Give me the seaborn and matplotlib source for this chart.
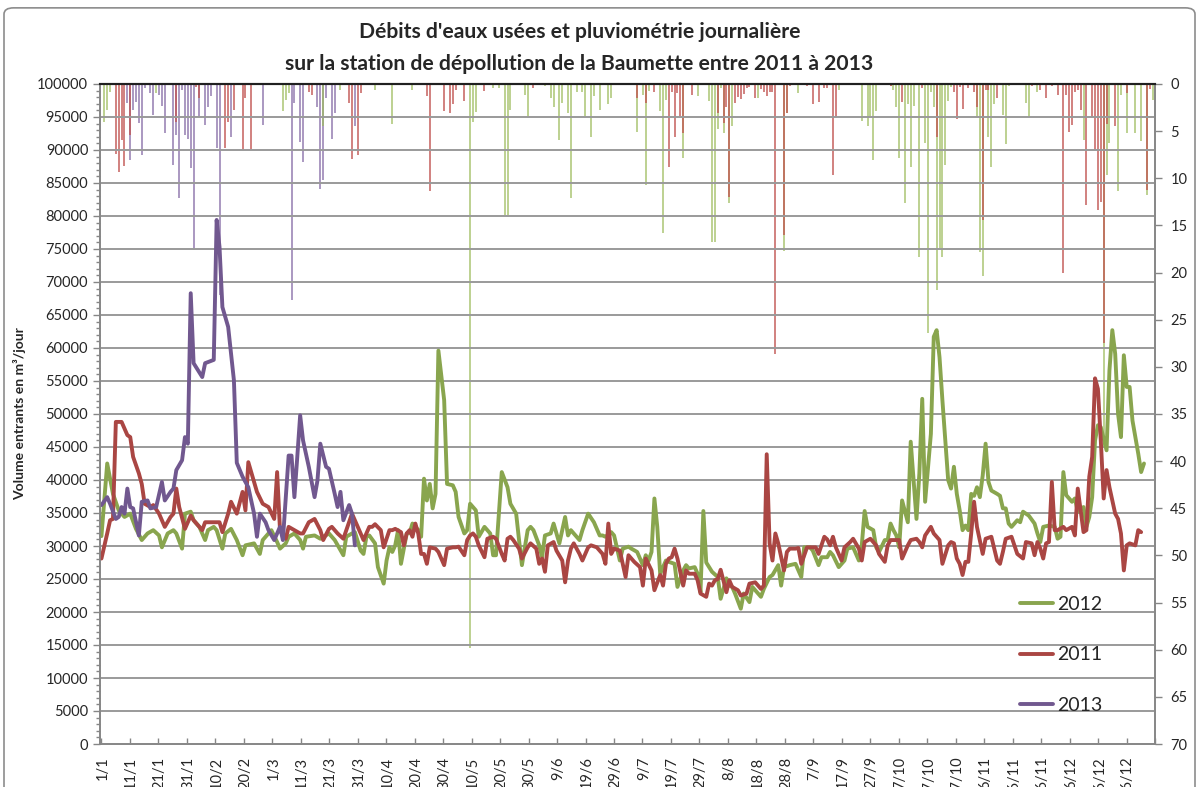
import matplotlib
matplotlib.use("Agg")
import matplotlib.pyplot as plt
from matplotlib.patches import FancyBboxPatch
from matplotlib.ticker import MultipleLocator
import seaborn as sns

# Débits journaliers entrants (jour de l'année, m3/jour)
days_2012 = [0, 2, 4, 6, 8, 10, 12, 14, 16, 18, 20, 21, 23, 25, 26, 28, 29, 31, 32, 34, 35, 36, 37, 39, 40,
             42, 43, 45, 47, 49, 50, 53, 55, 56, 58, 59, 61, 62, 64, 65, 67, 69, 70, 71, 74, 76, 79, 81, 84,
             85, 87, 88, 90, 91, 92, 93, 95, 96, 98, 99, 100, 101, 102, 103, 104, 106, 107, 108, 110, 111,
             112, 113, 114, 115, 116, 117, 119, 120, 122, 123, 124, 126, 127, 128, 130, 131, 133, 135, 136,
             137, 138, 139, 141, 142, 144, 145, 146, 148, 149, 150, 152, 153, 154, 156, 157, 159, 160, 161,
             162, 163, 164, 166, 167, 169, 171, 173, 174, 175, 177, 178, 180, 181, 183, 184, 186, 188, 189,
             190, 191, 192, 193, 194, 196, 197, 199, 200, 202, 203, 204, 206, 207, 208, 209, 210, 212, 214,
             215, 217, 218, 219, 220, 222, 223, 225, 226, 227, 229, 230, 232, 233, 235, 236, 237, 239, 241,
             243, 244, 246, 247, 249, 250, 252, 253, 254, 256, 258, 259, 261, 263, 264, 265, 266, 268, 269,
             270, 272, 273, 274, 275, 276, 277, 278, 280, 281, 283, 284, 285, 286, 288, 289, 290, 291, 292,
             294, 295, 296, 297, 298, 299, 300, 301, 302, 303, 304, 305, 306, 307, 308, 309, 311, 312, 313,
             314, 315, 316, 318, 319, 320, 322, 324, 325, 326, 327, 329, 331, 332, 333, 334, 335, 337, 338,
             339, 341, 342, 343, 344, 345, 346, 347, 349, 350, 351, 352, 353, 354, 355, 356, 357, 358, 359,
             360, 361, 362]
flow_2012 = [31500, 42500, 37900, 35400, 34400, 34900, 32600, 30900, 31900, 32400, 31600, 29800, 31900,
             32400, 31900, 29600, 34900, 35200, 33900, 32900, 31900, 30900, 32400, 32900, 32400, 29600,
             31900, 32600, 30900, 28600, 30100, 30400, 28800, 30900, 31900, 32400, 30600, 29600, 30400,
             31400, 31900, 30900, 29600, 31400, 31600, 31100, 31900, 30900, 28600, 31400, 31900, 32100,
             29300, 28800, 31400, 31600, 30400, 26800, 24300, 27800, 29800, 29100, 30100, 32400, 27300,
             31900, 32000, 33400, 32400, 31400, 40200, 36900, 39400, 35700, 37900, 59600, 52100, 39400,
             39200, 38200, 34400, 31900, 32400, 36400, 35400, 31400, 32900, 31900, 28600, 28600, 34900,
             41200, 38900, 36400, 34900, 30900, 27100, 32400, 32900, 32400, 30100, 28300, 31600, 31900,
             33400, 30400, 32400, 34400, 31600, 32400, 31900, 30900, 32400, 34900, 33600, 31600, 31600,
             31400, 32100, 31600, 27800, 29600, 29900, 29600, 29100, 27100, 28600, 27800, 29100, 37200,
             32900, 25800, 27800, 27600, 27300, 23800, 26300, 27100, 26600, 26800, 25800, 23000, 35300,
             27500, 26100, 25300, 22000, 25100, 24000, 23800, 22800, 20500, 22800, 21500, 23800, 23300,
             22300, 23500, 25300, 25600, 27100, 24000, 26800, 27100, 27300, 25300, 29800, 29800, 29300,
             27100, 28300, 28300, 29100, 28600, 26800, 27800, 29600, 29800, 27800, 30100, 35300, 32900,
             32400, 29800, 29100, 30900, 30900, 33400, 32400, 31600, 29800, 36900, 33600, 45800, 34100,
             41000, 52300, 36700, 47000, 61700, 62700, 58600, 52100, 40000, 38700, 42000, 37900, 35400,
             32400, 33100, 32400, 37900, 37600, 38900, 37400, 40700, 45500, 39700, 38400, 37900, 37600,
             35700, 35700, 33400, 32900, 33900, 33600, 35200, 34600, 33400, 31900, 30600, 32900, 33100,
             32900, 31100, 31400, 41200, 37700, 36700, 37200, 35200, 35900, 32900, 34400, 37400, 46000,
             48300, 48000, 44500, 56600, 62700, 59100, 50000, 46500, 58900, 54100, 54100, 49000, 46500,
             44000, 41200, 42500]

days_2011 = [0, 2, 3, 4, 5, 7, 9, 10, 11, 13, 14, 15, 17, 18, 20, 22, 24, 25, 26, 27, 29, 31, 32, 35, 36,
             39, 41, 42, 44, 45, 47, 49, 50, 51, 53, 54, 56, 58, 60, 61, 62, 64, 65, 67, 69, 70, 72, 74, 76,
             77, 79, 80, 82, 84, 87, 89, 91, 93, 94, 95, 97, 98, 100, 101, 102, 104, 105, 106, 107, 108,
             109, 110, 111, 112, 113, 114, 116, 117, 119, 120, 122, 123, 124, 126, 127, 128, 129, 130, 131,
             133, 134, 136, 137, 139, 140, 141, 142, 143, 145, 146, 148, 149, 151, 152, 153, 154, 155, 157,
             158, 160, 161, 162, 163, 164, 166, 167, 169, 170, 172, 174, 175, 176, 177, 178, 180, 181, 182,
             183, 185, 187, 188, 189, 191, 192, 194, 195, 196, 197, 198, 199, 200, 202, 203, 204, 206, 207,
             208, 210, 211, 212, 213, 214, 215, 217, 218, 219, 221, 222, 224, 225, 227, 229, 230, 231, 232,
             233, 234, 235, 237, 238, 239, 241, 242, 243, 245, 247, 248, 249, 251, 252, 253, 254, 255, 257,
             258, 260, 261, 263, 264, 265, 267, 269, 270, 272, 273, 274, 275, 277, 278, 280, 281, 283, 284,
             285, 286, 288, 289, 291, 292, 294, 295, 296, 297, 298, 299, 300, 301, 302, 303, 304, 306, 307,
             309, 310, 311, 312, 313, 314, 316, 317, 318, 320, 321, 323, 324, 325, 326, 327, 328, 329, 330,
             331, 332, 334, 335, 337, 338, 339, 340, 341, 342, 343, 344, 345, 346, 347, 348, 349, 350, 352,
             353, 354, 355, 356, 357, 359, 360, 361]
flow_2011 = [28100, 31900, 33900, 34100, 48800, 48800, 46800, 46500, 43500, 41000, 39400, 36400, 35900,
             36200, 34900, 32900, 34400, 34900, 38700, 35900, 32600, 34600, 33900, 32400, 33600, 33600,
             33600, 32100, 34900, 36700, 34900, 38200, 35400, 42700, 39700, 38200, 36400, 35900, 34100,
             41200, 32400, 31100, 32900, 32400, 31900, 31900, 33600, 34100, 32400, 30900, 32600, 32900,
             31900, 31100, 34900, 32900, 30900, 32900, 32900, 33300, 32400, 29800, 32400, 32400, 32600,
             32100, 30100, 31900, 32400, 31400, 33400, 31900, 28800, 28800, 27300, 29800, 29600, 29100,
             27100, 29600, 29800, 29800, 29900, 28600, 30900, 31600, 31900, 31400, 30100, 28300, 31100,
             31400, 31100, 28800, 27800, 31100, 31400, 30900, 29600, 28100, 29800, 30400, 29600, 27300,
             28100, 26100, 30100, 30600, 29300, 27800, 24500, 27800, 29600, 30400, 28800, 27800, 29800,
             30100, 29800, 28800, 27300, 33400, 28800, 29600, 29300, 27300, 25300, 28600, 27600, 26800,
             24000, 28100, 26300, 23300, 25600, 24000, 27300, 28100, 28300, 29600, 28100, 24000, 26300,
             25800, 25800, 24800, 22800, 22300, 24300, 24000, 24800, 25000, 26400, 23000, 24800, 23800,
             23300, 22500, 22800, 24300, 24500, 23500, 24000, 43900, 30400, 27800, 31900, 30400, 26300,
             29100, 29600, 29600, 29700, 27300, 29800, 29800, 29800, 28800, 31400, 31000, 30100, 31400,
             29800, 27800, 29800, 30600, 31100, 29600, 27800, 30600, 31100, 30100, 28800, 27600, 30100,
             30900, 30900, 30900, 28100, 30100, 30900, 31100, 30600, 29800, 31600, 32900, 31900, 30900,
             27300, 30100, 30600, 30400, 28100, 27300, 25600, 27600, 27600, 31900, 36700, 32900, 28800,
             31100, 31400, 29600, 27800, 27300, 29100, 31100, 31400, 30100, 28800, 28100, 30600, 30400,
             28600, 30600, 29600, 28100, 30400, 30600, 39700, 32400, 32400, 32900, 32400, 32900, 31600,
             38700, 35400, 32100, 32400, 40500, 43500, 55400, 53800, 46000, 37200, 41500, 38900, 34900,
             34100, 31900, 26300, 30100, 30400, 30100, 32400, 32100]

days_2013 = [0, 2, 3, 5, 6, 7, 8, 9, 10, 11, 13, 14, 16, 17, 19, 21, 22, 24, 25, 26, 28, 29, 30, 31, 32, 35,
             36, 39, 40, 41, 42, 44, 46, 47, 49, 51, 53, 54, 55, 57, 58, 60, 62, 63, 65, 66, 67, 68, 69,
             70, 72, 74, 75, 76, 78, 79, 81, 82, 83, 84, 86, 87, 88]
flow_2013 = [36200, 37400, 36400, 34100, 34400, 35900, 34900, 38700, 35900, 35700, 31600, 36700, 36900,
             35700, 35900, 39700, 36900, 38200, 38700, 41500, 43000, 46500, 45500, 68300, 57700, 55600,
             57700, 58200, 79400, 75300, 66200, 63200, 55100, 42600, 40500, 38900, 34900, 31400, 34900,
             33600, 32400, 30900, 32900, 30900, 43700, 43700, 37400, 43500, 49800, 46000, 42000, 37400,
             39900, 45500, 42000, 41700, 37900, 35900, 38200, 33900, 36200, 34900, 30100]

# Pluviométrie journalière (jour de l'année, mm)
rain_days_2012 = [1, 2, 3, 19, 63, 64, 65, 77, 83, 95, 101, 108, 128, 129, 130, 136, 138, 140, 141, 142,
                  147, 148, 154, 156, 157, 159, 160, 162, 163, 165, 167, 168, 170, 171, 173, 176, 177, 186,
                  188, 189, 190, 194, 195, 196, 202, 207, 211, 212, 213, 214, 215, 216, 218, 219, 228, 237,
                  238, 242, 256, 261, 264, 266, 267, 268, 269, 274, 275, 276, 277, 279, 280, 281, 282, 284,
                  286, 287, 288, 289, 290, 291, 292, 293, 294, 295, 304, 305, 306, 308, 309, 310, 313, 314,
                  315, 321, 322, 325, 341, 348, 349, 350, 353, 354, 356, 359, 361, 363, 365]
rain_2012 = [4.0, 2.8, 0.9, 1.0, 2.9, 1.7, 1.0, 4.5, 0.6, 0.6, 4.2, 0.6, 59.8, 4.0, 3.0, 0.4, 0.4, 13.9,
             13.9, 2.8, 1.2, 3.4, 0.2, 1.5, 2.4, 5.9, 2.0, 3.1, 12.1, 0.9, 0.9, 3.4, 5.6, 1.3, 2.8, 2.1,
             1.5, 5.1, 1.2, 10.7, 0.7, 2.9, 15.8, 1.7, 7.8, 1.3, 1.8, 16.8, 16.8, 4.8, 0.4, 5.2, 12.6, 4.5,
             1.5, 17.7, 3.1, 1.0, 0.6, 0.1, 3.9, 4.5, 3.5, 8.1, 2.9, 0.2, 0.6, 2.4, 7.9, 12.6, 2.1, 8.8,
             2.3, 18.3, 6.3, 26.4, 0.8, 2.4, 21.8, 17.4, 18.4, 8.6, 1.8, 0.3, 3.5, 17.8, 20.4, 5.6, 8.8,
             2.1, 3.3, 6.4, 0.2, 2.0, 3.5, 0.9, 5.9, 38.5, 9.7, 6.3, 11.4, 1.2, 5.2, 5.2, 6.0, 11.8, 1.7]

rain_days_2011 = [5, 6, 7, 8, 10, 26, 33, 34, 43, 44, 46, 49, 50, 52, 59, 72, 73, 86, 87, 89, 90, 113, 114,
                  119, 121, 122, 123, 126, 133, 150, 186, 189, 192, 197, 198, 199, 200, 201, 202, 205, 214,
                  216, 217, 218, 220, 221, 222, 223, 224, 225, 227, 229, 230, 231, 232, 233, 234, 237, 238,
                  239, 245, 247, 249, 251, 252, 254, 255, 274, 278, 285, 290, 296, 297, 298, 299, 301, 303,
                  304, 306, 307, 308, 311, 323, 326, 328, 329, 330, 331, 332, 334, 335, 336, 337, 338, 339,
                  340, 342, 344, 345, 346, 347, 348, 349, 352, 356, 363, 364]
rain_2011 = [7.4, 9.3, 5.9, 8.7, 5.4, 4.0, 0.3, 1.5, 6.8, 4.0, 2.8, 7.0, 1.5, 6.9, 0.1, 0.8, 1.2, 2.0, 8.0,
             7.5, 1.0, 1.3, 11.3, 2.9, 3.1, 2.1, 0.6, 1.8, 0.7, 0.4, 1.5, 2.0, 0.9, 8.8, 0.9, 5.6, 1.0,
             3.4, 5.2, 1.2, 3.1, 4.1, 2.4, 12.0, 2.0, 1.4, 1.6, 1.1, 0.4, 0.3, 1.5, 0.5, 0.8, 1.3, 0.8,
             0.9, 28.6, 16.0, 3.1, 0.2, 0.2, 2.1, 1.9, 0.4, 0.4, 9.6, 3.5, 0.2, 1.9, 0.4, 5.6, 0.8, 3.7,
             0.3, 2.7, 0.4, 0.9, 2.4, 14.4, 0.6, 0.6, 1.5, 0.2, 0.6, 1.5, 0.1, 0.2, 0.1, 1.2, 20.0, 1.2,
             5.1, 4.4, 0.9, 0.6, 2.8, 12.8, 3.5, 7.0, 13.4, 12.5, 27.5, 4.2, 4.5, 1.0, 11.2, 0.5]

rain_days_2013 = [9, 10, 11, 12, 13, 14, 15, 17, 18, 20, 21, 22, 25, 26, 27, 28, 29, 30, 31, 32, 34, 36, 37,
                  38, 40, 41, 45, 56, 66, 67, 69, 70, 75, 76, 77, 78, 80, 81, 88]
rain_2013 = [2.0, 8.1, 2.8, 1.9, 4.1, 7.5, 0.4, 1.0, 3.3, 1.2, 2.3, 5.2, 8.6, 5.4, 12.1, 0.6, 5.4, 5.8, 8.9,
             17.6, 3.5, 4.4, 2.4, 1.3, 6.8, 22.4, 5.6, 4.4, 22.9, 2.0, 6.1, 8.3, 2.4, 11.1, 10.2, 1.5, 5.8,
             3.1, 4.5]

xtick_labels = ["1/1", "11/1", "21/1", "31/1", "10/2", "20/2", "1/3", "11/3", "21/3", "31/3", "10/4",
                "20/4", "30/4", "10/5", "20/5", "30/5", "9/6", "19/6", "29/6", "9/7", "19/7", "29/7", "8/8",
                "18/8", "28/8", "7/9", "17/9", "27/9", "7/10", "17/10", "27/10", "6/11", "16/11", "26/11",
                "6/12", "16/12", "26/12"]

sns.set_theme(style="white")
plt.rcParams['font.family'] = ['Lato', 'DejaVu Sans']

fig = plt.figure(figsize=(12, 7.87), dpi=100)
ax = fig.add_axes([100 / 1200, 1 - 744 / 787, 1055 / 1200, 660 / 787])
ax2 = ax.twinx()

# pluviométrie (barres suspendues, axe secondaire inversé)
ax2.bar(rain_days_2013, rain_2013, width=0.7, color="#8064A2", alpha=0.65, linewidth=0)
ax2.bar(rain_days_2012, rain_2012, width=0.7, color="#9BBB59", alpha=0.65, linewidth=0)
ax2.bar(rain_days_2011, rain_2011, width=0.7, color="#C0504D", alpha=0.7, linewidth=0)
ax2.set_ylim(70, 0)
ax2.yaxis.set_major_locator(MultipleLocator(5))
ax2.tick_params(axis="y", labelsize=10.5, length=5, width=1, color="#868686", direction="out", pad=6)

# débits
sns.lineplot(x=days_2012, y=flow_2012, ax=ax, color="#89A54E", lw=2.8, label="2012")
sns.lineplot(x=days_2011, y=flow_2011, ax=ax, color="#AA4643", lw=2.8, label="2011")
sns.lineplot(x=days_2013, y=flow_2013, ax=ax, color="#71588F", lw=2.8, label="2013")

ax.set_zorder(ax2.get_zorder() + 1)
ax.patch.set_visible(False)

ax.set_xlim(-0.5, 365.5)
ax.set_ylim(0, 100000)
ax.yaxis.set_major_locator(MultipleLocator(5000))
ax.yaxis.set_minor_locator(MultipleLocator(1000))
ax.grid(axis="y", color="#9a9a9a", lw=1.4)
ax.set_axisbelow(True)
ax.tick_params(axis="y", which="major", labelsize=10.5, length=5, width=1, color="#868686",
               direction="out", left=True)
ax.tick_params(axis="y", which="minor", length=3, width=1, color="#868686", direction="out", left=True)

# l'axe des catégories d'Excel place un libellé tous les 10 jours (pas de 28.5 px)
label_step = 9.887
ax.set_xticks([0.45 + label_step * k for k in range(len(xtick_labels))])
ax.set_xticklabels(xtick_labels, rotation=90, fontsize=10.5)
ax.set_xticks([label_step * k for k in range(len(xtick_labels) + 1)], minor=True)
ax.tick_params(axis="x", which="major", length=0, pad=9)
ax.tick_params(axis="x", which="minor", length=4, width=1, color="#868686", direction="in", bottom=True)
ax.set_xlabel("")
ax.set_ylabel("Volume entrants en m³/jour", fontsize=10, fontweight="bold", labelpad=8)

for a in (ax, ax2):
    for side in ("left", "right", "bottom"):
        a.spines[side].set_color("#868686")
        a.spines[side].set_linewidth(1.2)
    a.spines["top"].set_color("#202020")
    a.spines["top"].set_linewidth(1.5)

ax.legend(loc="upper left", bbox_to_anchor=(1020 / 1200, 1 - 596 / 787), bbox_transform=fig.transFigure,
          frameon=False, fontsize=14, handlelength=1.7, handletextpad=0.2, labelspacing=1.72,
          borderpad=0, borderaxespad=0)

fig.text(0.483, 1 - 48 / 787,
         "Débits d'eaux usées et pluviométrie journalière\nsur la station de dépollution de la Baumette entre 2011 à 2013",
         ha="center", va="center", fontsize=15.2, fontweight="bold", linespacing=1.75)

fig.patches.append(FancyBboxPatch((4 / 1200, -0.05), 1191 / 1200, 1.04, boxstyle="round,pad=0,rounding_size=0.008",
                                  transform=fig.transFigure, fill=False, edgecolor="#8c8c8c", lw=1.2))

fig.savefig("out.png", dpi=100)
